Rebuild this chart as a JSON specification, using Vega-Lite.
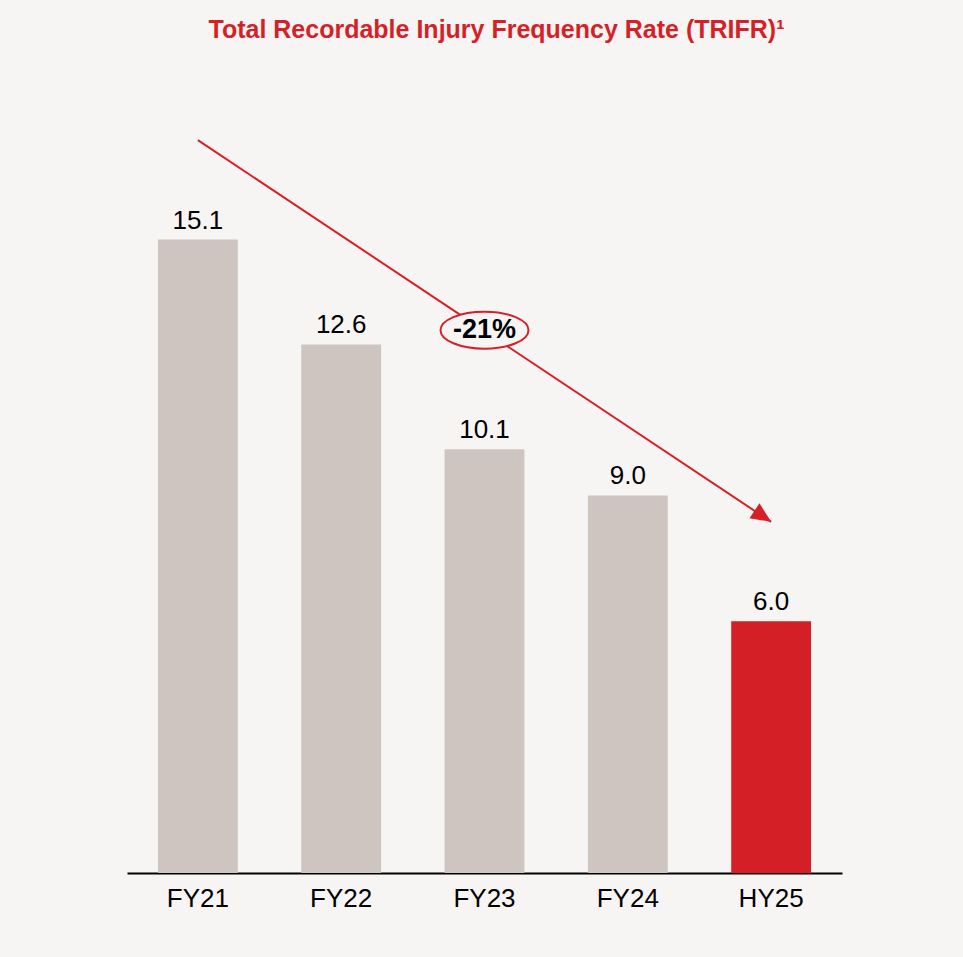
{
  "$schema": "https://vega.github.io/schema/vega-lite/v6.json",
  "width": 715,
  "height": 813,
  "autosize": {"type": "none"},
  "padding": {"left": 127, "top": 60, "right": 121, "bottom": 84},
  "background": "#f6f5f4",
  "config": {"view": {"stroke": null}, "font": "Liberation Sans"},
  "title": {
    "text": "Total Recordable Injury Frequency Rate (TRIFR)¹",
    "anchor": "middle",
    "font": "Liberation Sans",
    "fontSize": 25,
    "fontWeight": "bold",
    "color": "#d71f27",
    "offset": 17,
    "dx": 12
  },
  "datasets": {
    "bars": [
      {"period": "FY21", "trifr": 15.1},
      {"period": "FY22", "trifr": 12.6},
      {"period": "FY23", "trifr": 10.1},
      {"period": "FY24", "trifr": 9.0},
      {"period": "HY25", "trifr": 6.0}
    ],
    "trend": [
      {"period": "FY21", "level": 17.47},
      {"period": "HY25", "level": 8.37}
    ],
    "badge": [
      {"period": "FY23", "level": 12.94, "label": "-21%"}
    ]
  },
  "encoding": {
    "x": {
      "field": "period",
      "type": "nominal",
      "sort": null,
      "scale": {"domain": ["FY21", "FY22", "FY23", "FY24", "HY25"], "paddingInner": 0.443, "paddingOuter": 0.216},
      "axis": {
        "title": null,
        "domainColor": "#000000",
        "domainWidth": 2,
        "ticks": false,
        "grid": false,
        "labelAngle": 0,
        "labelFont": "Liberation Sans",
        "labelFontSize": 26,
        "labelColor": "#000000",
        "labelPadding": 12
      }
    }
  },
  "layer": [
    {
      "data": {"name": "bars"},
      "mark": {"type": "bar"},
      "encoding": {
        "y": {"field": "trifr", "type": "quantitative", "scale": {"domain": [0, 19.38], "nice": false}, "axis": null},
        "color": {
          "condition": {"test": "datum.period === 'HY25'", "value": "#d41f26"},
          "value": "#cec5c1"
        }
      }
    },
    {
      "data": {"name": "bars"},
      "mark": {"type": "text", "baseline": "alphabetic", "dy": -11, "fontSize": 26, "color": "#000000", "font": "Liberation Sans"},
      "encoding": {
        "y": {"field": "trifr", "type": "quantitative", "scale": {"domain": [0, 19.38], "nice": false}, "axis": null},
        "text": {"field": "trifr", "type": "quantitative", "format": ".1f"}
      }
    },
    {
      "data": {"name": "trend"},
      "mark": {"type": "line", "color": "#d71f27", "strokeWidth": 2},
      "encoding": {
        "y": {"field": "level", "type": "quantitative", "scale": {"domain": [0, 19.38], "nice": false}, "axis": null}
      }
    },
    {
      "data": {"name": "trend"},
      "transform": [{"filter": "datum.period === 'HY25'"}],
      "mark": {
        "type": "point",
        "shape": "M 0 0 L -1 -0.45 L -1 0.45 Z",
        "size": 1600,
        "angle": 33.64,
        "filled": true,
        "opacity": 1,
        "color": "#d71f27"
      },
      "encoding": {
        "y": {"field": "level", "type": "quantitative", "scale": {"domain": [0, 19.38], "nice": false}, "axis": null}
      }
    },
    {
      "data": {"name": "badge"},
      "mark": {
        "type": "point",
        "shape": "M -1 0 A 1 0.42 0 1 0 1 0 A 1 0.42 0 1 0 -1 0 Z",
        "size": 7744,
        "filled": true,
        "opacity": 1,
        "fill": "#f6f5f4",
        "fillOpacity": 1,
        "stroke": "#d71f27",
        "strokeWidth": 2,
        "strokeOpacity": 1
      },
      "encoding": {
        "y": {"field": "level", "type": "quantitative", "scale": {"domain": [0, 19.38], "nice": false}, "axis": null}
      }
    },
    {
      "data": {"name": "badge"},
      "mark": {"type": "text", "fontSize": 27, "fontWeight": "bold", "color": "#000000", "baseline": "middle", "align": "center", "font": "Liberation Sans"},
      "encoding": {
        "y": {"field": "level", "type": "quantitative", "scale": {"domain": [0, 19.38], "nice": false}, "axis": null},
        "text": {"field": "label", "type": "nominal"}
      }
    }
  ]
}
